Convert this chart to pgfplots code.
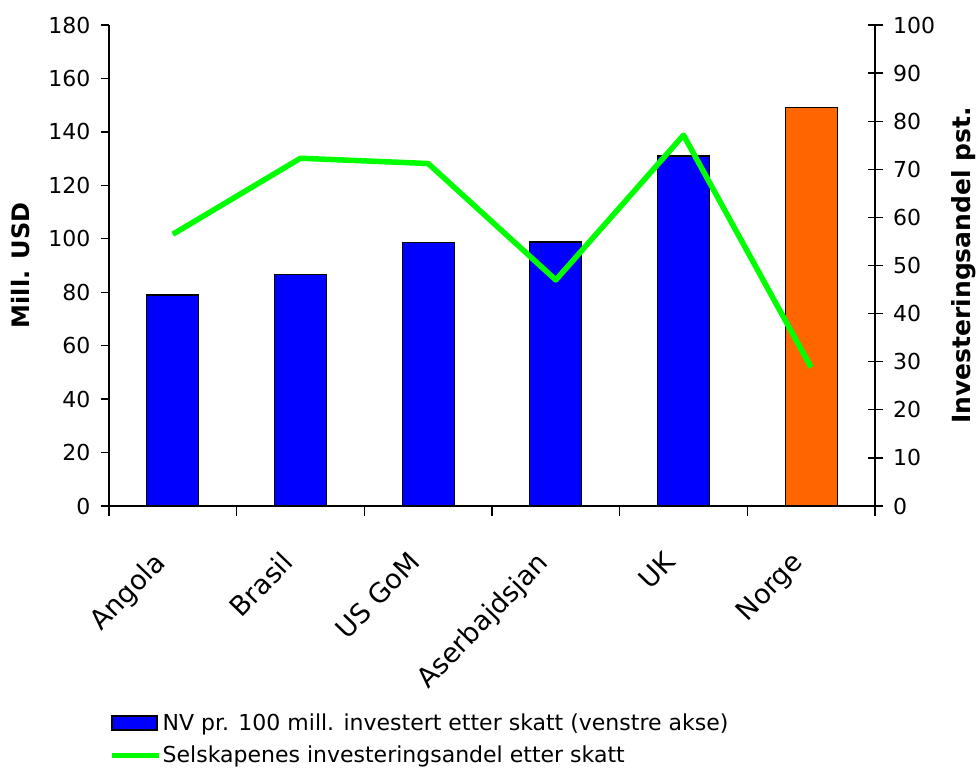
\documentclass[border=0pt]{standalone}
\usepackage{pgfplots}
\pgfplotsset{compat=1.18}
\usepackage{fontspec}
\setmainfont{DejaVu Sans}

\definecolor{barblue}{HTML}{0000FF}
\definecolor{barorange}{HTML}{FF6600}
\definecolor{linegreen}{HTML}{00FF00}

\pgfplotsset{
  common/.style={
    at={(0pt,0pt)}, anchor=south west,
    scale only axis, width=766pt, height=481pt,
    xmin=-0.5, xmax=5.5,
    /pgf/number format/assume math mode=true,
    tick label style={font=\fontsize{22}{26}\selectfont},
    axis line style={line width=1.3pt, black},
    every tick/.style={line width=1.3pt, black},
    clip=false,
  },
  barlegend/.style={legend image code/.code={\draw[##1] (0pt,-7pt) rectangle (45pt,7pt);}},
  linelegend/.style={legend image code/.code={\draw[##1] (0pt,0pt) -- (47pt,0pt);}},
}

\begin{document}
\begin{tikzpicture}
\useasboundingbox (-109pt,-263pt) rectangle (869pt,506pt);

% left axis: net value per 100 mill. invested, after tax
\begin{axis}[
  common,
  ymin=0, ymax=180,
  axis x line*=bottom, axis y line*=left,
  xtick={0,...,5},
  xticklabels={Angola,Brasil,US GoM,Aserbajdsjan,UK,Norge},
  minor xtick={-0.5,0.5,...,5.5},
  ytick={0,20,...,180},
  tick align=outside,
  major tick length=8pt, minor tick length=10pt,
  major x tick style={draw=none},
  xticklabel style={xshift=-21pt, yshift=-36pt, rotate=46, anchor=north east, inner sep=0pt, font=\fontsize{27}{31}\selectfont},
  yticklabel style={xshift=-7pt},
  ylabel={Mill. USD},
  every axis y label/.style={at={(axis description cs:-0.115,0.5)}, anchor=center, rotate=90, font=\bfseries\fontsize{24}{28}\selectfont},
]
\addplot[ybar, bar width=52pt, fill=barblue, draw=black, line width=1.3pt]
  coordinates {(0,79.0) (1,86.6) (2,98.7) (3,98.8) (4,131.0)};
\addplot[ybar, bar width=52pt, fill=barorange, draw=black, line width=1.3pt]
  coordinates {(5,149.2)};
\end{axis}

% right axis: companies' share of investment after tax
\begin{axis}[
  common,
  ymin=0, ymax=100,
  axis x line=none, axis y line*=right,
  ytick={0,10,...,100},
  tick align=center,
  major tick length=15pt,
  yticklabel style={xshift=7pt},
  ylabel={Investeringsandel pst.},
  every axis y label/.style={at={(axis description cs:1.116,0.5)}, anchor=center, rotate=90, font=\bfseries\fontsize{25}{29}\selectfont},
  legend style={
    at={(axis description cs:0.0,-0.432)}, anchor=north west,
    draw=none, fill=none, inner sep=0pt,
    font=\fontsize{22}{26}\selectfont,
    row sep=14pt,
    nodes={inner sep=0pt},
    /tikz/every odd column/.style={column sep=1pt},
  },
  legend cell align=left,
]
\addlegendimage{fill=barblue, draw=black, line width=1.3pt, barlegend}
\addlegendentry{NV pr. 100 mill. investert etter skatt (venstre akse)}
\addplot[linegreen, line width=5.5pt, line join=round, linelegend]
  coordinates {(0,56.5) (1,72.3) (2,71.2) (3,47.0) (4,77.1) (5,28.8)};
\addlegendentry{Selskapenes investeringsandel etter skatt}
\end{axis}
\end{tikzpicture}
\end{document}
